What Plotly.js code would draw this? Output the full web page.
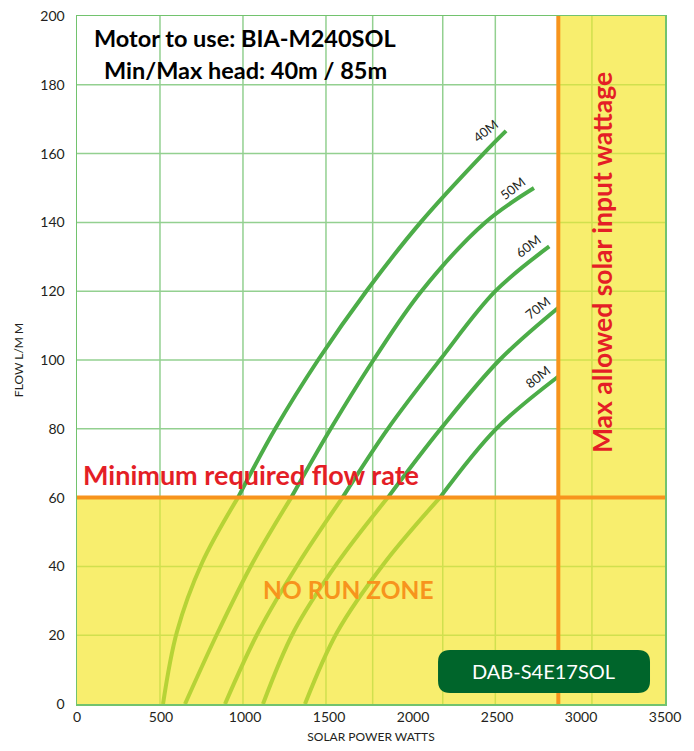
<!DOCTYPE html>
<html>
<head>
<meta charset="utf-8">
<script src="https://cdn.plot.ly/plotly-3.0.1.min.js"></script>
<style>html,body{margin:0;padding:0;background:#fff;}#chart{width:694px;height:751px;}</style>
</head>
<body>
<div id="chart"></div>
<script>
// ---- data ----
const heads = ['40M', '50M', '60M', '70M', '80M'];
const watts40M = [512, 595, 744, 958, 1180, 1435, 1722, 2045, 2420, 2554];
const flow40M  = [0, 21, 41, 60, 80, 100, 120, 140, 160, 166.6];
const watts50M = [643, 840, 1045, 1275, 1510, 1765, 2050, 2430, 2720];
const flow50M  = [0, 21, 41, 60, 80, 100, 120, 140, 150];
const watts60M = [881, 1080, 1320, 1580, 1850, 2160, 2490, 2811];
const flow60M  = [0, 21, 41, 60, 80, 100, 120, 133];
const watts70M = [1107, 1290, 1550, 1850, 2165, 2515, 2865];
const flow70M  = [0, 21, 41, 60, 80, 100, 115.2];
const watts80M = [1357, 1550, 1830, 2160, 2495, 2865];
const flow80M  = [0, 21, 41, 60, 80, 95.2];

const minFlow = 60;          // minimum required flow rate (L/min)
const maxWatts = 2865;       // max allowed solar input wattage
const xTicks = [0, 500, 1000, 1500, 2000, 2500, 3000, 3500];
const yTicks = [0, 20, 40, 60, 80, 100, 120, 140, 160, 180, 200];
const gridX = [494, 988, 1482, 1760, 2177, 2490, 3065];
const gridY = [20, 40, 80, 100, 120, 140, 160, 180];

const titleLine1 = 'Motor to use: BIA-M240SOL';
const titleLine2 = 'Min/Max head: 40m / 85m';
const minFlowText = 'Minimum required flow rate';
const noRunText = 'NO RUN ZONE';
const maxWattText = 'Max allowed solar input wattage';
const modelText = 'DAB-S4E17SOL';

// ---- styles ----
const DARK = '#4cad48';
const LIGHT = '#b6d336';
const YELLOW = '#f8ee6e';
const ORANGE = '#f7941d';
const RED = '#e41e26';
const GRID_W = '#93d090';
const GRID_Y = '#d0e04e';
const FONT = 'Lato, "Open Sans", sans-serif';

const series = [
  [watts40M, flow40M], [watts50M, flow50M], [watts60M, flow60M],
  [watts70M, flow70M], [watts80M, flow80M]
];

const traces = [];
const annotations = [];
series.forEach(([w, f], i) => {
  const lo = {x: [], y: []}, hi = {x: [], y: []};
  w.forEach((xv, k) => {
    if (f[k] <= minFlow) { lo.x.push(xv); lo.y.push(f[k]); }
    if (f[k] >= minFlow) { hi.x.push(xv); hi.y.push(f[k]); }
  });
  traces.push({x: lo.x, y: lo.y, type: 'scatter', mode: 'lines',
    line: {color: LIGHT, width: 4, shape: 'spline', smoothing: 1}, hoverinfo: 'skip'});
  traces.push({x: hi.x, y: hi.y, type: 'scatter', mode: 'lines',
    line: {color: DARK, width: 4, shape: 'spline', smoothing: 1}, hoverinfo: 'skip'});
  annotations.push({
    x: w[w.length - 1], y: f[f.length - 1], xref: 'x', yref: 'y',
    xanchor: 'center', yanchor: 'middle',
    text: heads[i], showarrow: false, textangle: -38,
    xshift: -21, yshift: 0,
    font: {family: FONT, size: 13, color: '#231f20'}
  });
});

// ---- shapes ----
const shapes = [];
shapes.push({type: 'rect', xref: 'x', yref: 'y', x0: 0, x1: 3500, y0: 0, y1: minFlow,
  fillcolor: YELLOW, line: {width: 0}, layer: 'below'});
shapes.push({type: 'rect', xref: 'x', yref: 'y', x0: maxWatts, x1: 3500, y0: minFlow, y1: 200,
  fillcolor: YELLOW, line: {width: 0}, layer: 'below'});
gridY.forEach(g => {
  if (g < minFlow) {
    shapes.push({type: 'line', xref: 'x', yref: 'y', x0: 0, x1: 3500, y0: g, y1: g,
      line: {color: GRID_Y, width: 1.5}, layer: 'below'});
  } else {
    shapes.push({type: 'line', xref: 'x', yref: 'y', x0: 0, x1: maxWatts, y0: g, y1: g,
      line: {color: GRID_W, width: 1.5}, layer: 'below'});
    shapes.push({type: 'line', xref: 'x', yref: 'y', x0: maxWatts, x1: 3500, y0: g, y1: g,
      line: {color: GRID_Y, width: 1.5}, layer: 'below'});
  }
});
gridX.forEach(g => {
  if (g > maxWatts) {
    shapes.push({type: 'line', xref: 'x', yref: 'y', x0: g, x1: g, y0: 0, y1: 200,
      line: {color: GRID_Y, width: 1.5}, layer: 'below'});
  } else {
    shapes.push({type: 'line', xref: 'x', yref: 'y', x0: g, x1: g, y0: 0, y1: minFlow,
      line: {color: GRID_Y, width: 1.5}, layer: 'below'});
    shapes.push({type: 'line', xref: 'x', yref: 'y', x0: g, x1: g, y0: minFlow, y1: 200,
      line: {color: GRID_W, width: 1.5}, layer: 'below'});
  }
});
// white title box
shapes.push({type: 'rect', xref: 'paper', yref: 'paper', x0: 0.003, x1: 0.592, y0: 0.908, y1: 0.991,
  fillcolor: '#ffffff', line: {width: 0}, layer: 'below'});
// orange limit lines
shapes.push({type: 'line', xref: 'x', yref: 'y', x0: 0, x1: 3500, y0: minFlow, y1: minFlow,
  line: {color: ORANGE, width: 4}, layer: 'above'});
shapes.push({type: 'line', xref: 'x', yref: 'y', x0: maxWatts, x1: maxWatts, y0: 0, y1: 200,
  line: {color: ORANGE, width: 4}, layer: 'above'});
// model badge (rounded rectangle, paper coords)
(function () {
  const x0 = 0.614, x1 = 0.9745, y0 = 0.016, y1 = 0.0785;
  const rx = 12 / 588, ry = 12 / 688;
  const p = `M ${x0 + rx},${y0} L ${x1 - rx},${y0} Q ${x1},${y0} ${x1},${y0 + ry} ` +
    `L ${x1},${y1 - ry} Q ${x1},${y1} ${x1 - rx},${y1} L ${x0 + rx},${y1} ` +
    `Q ${x0},${y1} ${x0},${y1 - ry} L ${x0},${y0 + ry} Q ${x0},${y0} ${x0 + rx},${y0} Z`;
  shapes.push({type: 'path', xref: 'paper', yref: 'paper', path: p,
    fillcolor: '#00652b', line: {width: 0}, layer: 'above'});
})();

// ---- text annotations ----
const txt = (x, y, text, size, color, extra) => Object.assign({
  xref: 'paper', yref: 'paper', x: x, y: y, text: text, showarrow: false,
  xanchor: 'center', yanchor: 'middle',
  font: {family: FONT, size: size, color: color}
}, extra || {});
annotations.push(
  txt(0.286, 0.968, '<b>' + titleLine1 + '</b>', 23.5, '#000'),
  txt(0.286, 0.921, '<b>' + titleLine2 + '</b>', 23.5, '#000'),
  txt(0.007, 0.334, '<b>' + minFlowText + '</b>', 27, RED, {xanchor: 'left'}),
  txt(0.461, 0.166, '<b>' + noRunText + '</b>', 24.5, ORANGE),
  txt(0.893, 0.641, '<b>' + maxWattText + '</b>', 26.5, RED, {textangle: -90}),
  txt(0.794, 0.048, modelText, 20, '#ffffff')
);

const layout = {
  width: 694, height: 751,
  margin: {l: 77, r: 29, t: 16, b: 47},
  paper_bgcolor: '#ffffff', plot_bgcolor: '#ffffff',
  showlegend: false,
  xaxis: {
    range: [0, 3500], tickvals: xTicks, ticktext: xTicks.map(String),
    showgrid: false, zeroline: false, showline: true, mirror: true,
    linecolor: '#72c36e', linewidth: 1.5, ticks: '',
    tickfont: {family: FONT, size: 14, color: '#231f20'},
    title: {text: 'SOLAR POWER WATTS', standoff: 8,
      font: {family: FONT, size: 12, color: '#231f20'}}
  },
  yaxis: {
    range: [0, 200], tickvals: yTicks, ticktext: yTicks.map(String),
    showgrid: false, zeroline: false, showline: true, mirror: true,
    linecolor: '#72c36e', linewidth: 1.5, ticks: '', ticklabelstandoff: 8,
    tickfont: {family: FONT, size: 14, color: '#231f20'},
    title: {text: 'FLOW L/M M', standoff: 14,
      font: {family: FONT, size: 12, color: '#231f20'}}
  },
  shapes: shapes,
  annotations: annotations
};

Plotly.newPlot('chart', traces, layout, {staticPlot: true, displayModeBar: false});
</script>
</body>
</html>
